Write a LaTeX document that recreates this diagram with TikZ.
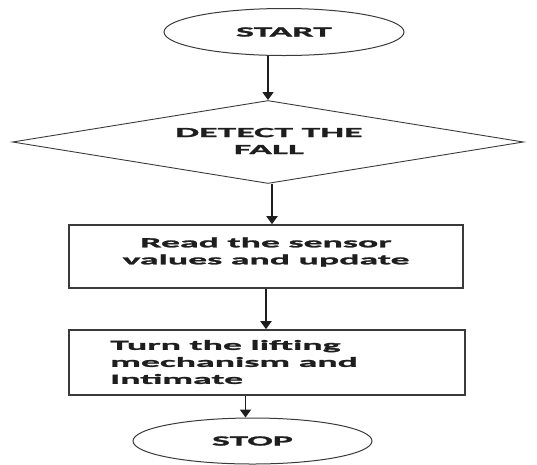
\documentclass[tikz,border=0pt]{standalone}
\usepackage{fontspec}
\newfontfamily\widefont[FakeStretch=2.7, BoldFont={Carlito Bold}, BoldFeatures={FakeBold=1.8}]{Carlito}
\usetikzlibrary{shapes.geometric,arrows.meta}
\definecolor{ink}{HTML}{1E1E1E}
\definecolor{edge}{HTML}{3A3A3A}
\tikzset{
  txt/.style={font=\widefont\bfseries\fontsize{14}{17}\selectfont, text=ink, inner sep=0pt},
  term/.style={draw=edge, line width=1pt, ellipse, minimum width=240pt, minimum height=47pt, inner sep=0pt, txt},
  decide/.style={draw=edge, line width=0.9pt, diamond, aspect=6.2, minimum width=511pt, minimum height=83pt, inner sep=0pt},
  procbox/.style={draw=edge, line width=1.6pt, rectangle, inner sep=0pt},
  arr/.style={draw=ink, line width=1.8pt, -{Triangle[width=11pt,length=8pt]}}
}
\begin{document}
\begin{tikzpicture}[x=1pt,y=-1pt]
\useasboundingbox (0,0) rectangle (537,464);
\node[term] (start) at (284,32) {START};
\node[decide] (dec) at (268,142) {};
\node[txt, align=center] (dect) at (269,141) {DETECT THE\\FALL};
\node[procbox, minimum width=394pt, minimum height=63pt] (r1) at (266,256.5) {};
\node[txt, align=center] (r1t) at (266,252) {Read the sensor\\values and update};
\node[procbox, minimum width=396pt, minimum height=65pt] (r2) at (267,362.5) {};
\node[txt, align=left, anchor=west] (r2t) at (110,362) {Turn the lifting\\mechanism and\\Intimate};
\node[term, minimum width=239pt, minimum height=46pt] (stop) at (252.5,441) {STOP};
\draw[arr] (start.south -| dec.north) -- (dec.north);
\draw[arr] ([xshift=4pt]dec.south) -- ([xshift=4pt]dec.south |- r1.north);
\draw[arr] (r1.south) -- (r1.south |- r2.north);
\draw[arr] ([xshift=-7pt]stop.north |- r2.south) -- ([xshift=-7pt]stop.north);
\end{tikzpicture}
\end{document}
